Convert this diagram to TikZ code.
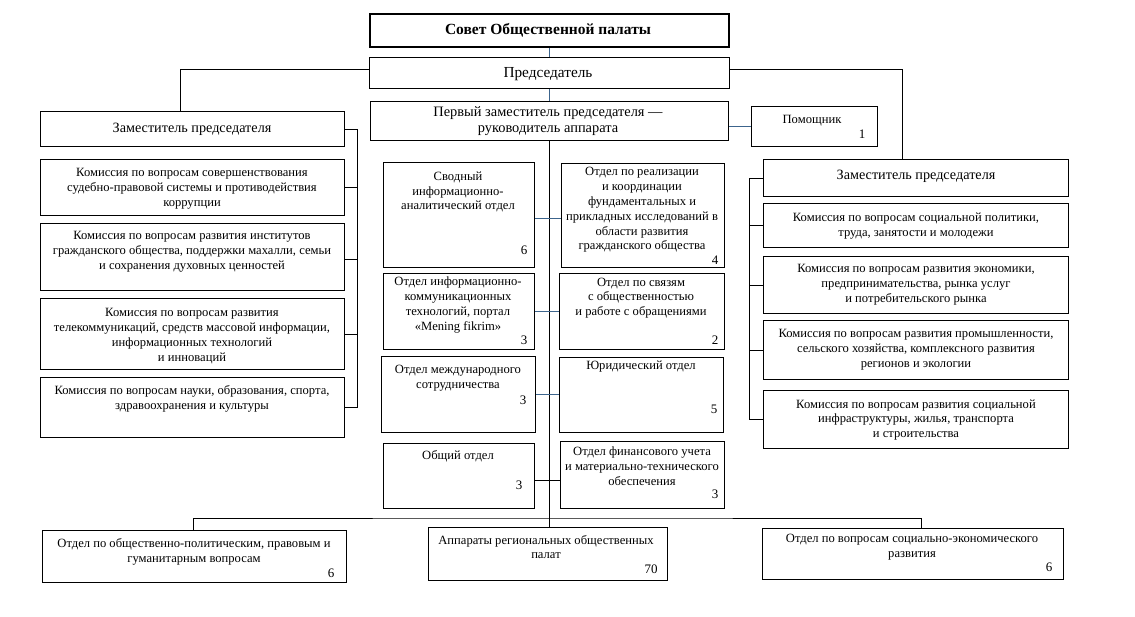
\documentclass[tikz,border=0pt]{standalone}
\usepackage{fontspec}
\setmainfont{Liberation Serif}
\definecolor{linkblue}{RGB}{60,100,140}
\tikzset{
  box/.style={draw=black,line width=1pt,inner sep=0pt,fill=white},
  boldbox/.style={draw=black,line width=2pt,inner sep=0pt},
  txt/.style={inner sep=0pt,align=center,yshift=-2pt,font=\fontsize{12.6}{14.8}\selectfont},
  num/.style={inner sep=0pt,yshift=-1pt,font=\fontsize{13}{15}\selectfont},
  conn/.style={draw=black,line width=1pt},
  bconn/.style={draw=linkblue,line width=0.9pt},
}
\newcommand\bx[6][]{\node[box,#1,minimum width={(#5-#3)*1pt},minimum height={(#6-#4)*1pt},anchor=north west] (#2) at (#3,#4) {};}
\begin{document}
\begin{tikzpicture}[x=1pt,y=-1pt]
\useasboundingbox[fill=white] (0,0) rectangle (1135,616);
% --- top
\bx[boldbox]{sovet}{369}{13}{728}{46}
\node[txt,font=\bfseries\fontsize{15.5}{17}\selectfont] (sovet-t) at (548,28) {Совет Общественной палаты};
\bx{pred}{369}{57}{729}{88}
\node[txt,font=\fontsize{15.3}{17}\selectfont] (pred-t) at (548,72) {Председатель};
\bx{perv}{370}{101}{728}{140}
\node[txt,font=\fontsize{14.4}{16}\selectfont] (perv-t) at (548,119) {Первый заместитель председателя —\\руководитель аппарата};
\bx{pom}{751}{106}{877}{146}
\node[txt] (pom-t) at (812,119) {Помощник};
\node[num] (pom-n) at (862,133) {1};
% --- deputies
\bx{zamL}{40}{111}{344}{146}
\node[txt,font=\fontsize{14.2}{16}\selectfont] (zamL-t) at (192,127) {Заместитель председателя};
\bx{zamR}{763}{159}{1068}{196}
\node[txt,font=\fontsize{14.2}{16}\selectfont] (zamR-t) at (916,174) {Заместитель председателя};
% --- left commissions
\bx{k1}{40}{159}{344}{215}
\node[txt] (k1-t) at (192,187) {Комиссия по вопросам совершенствования\\судебно-правовой системы и противодействия\\коррупции};
\bx{k2}{40}{223}{344}{290}
\node[txt] (k2-t) at (192,250) {Комиссия по вопросам развития институтов\\гражданского общества, поддержки махалли, семьи\\и сохранения духовных ценностей};
\bx{k3}{40}{298}{344}{369}
\node[txt] (k3-t) at (192,334) {Комиссия по вопросам развития\\телекоммуникаций, средств массовой информации,\\информационных технологий\\и инноваций};
\bx{k4}{40}{377}{344}{437}
\node[txt] (k4-t) at (192,397) {Комиссия по вопросам науки, образования, спорта,\\здравоохранения и культуры};
% --- right commissions
\bx{r1}{763}{203}{1068}{247}
\node[txt] (r1-t) at (916,224) {Комиссия по вопросам социальной политики,\\труда, занятости и молодежи};
\bx{r2}{763}{256}{1068}{313}
\node[txt] (r2-t) at (916,283) {Комиссия по вопросам развития экономики,\\предпринимательства, рынка услуг\\и потребительского рынка};
\bx{r3}{763}{320}{1068}{379}
\node[txt] (r3-t) at (916,348) {Комиссия по вопросам развития промышленности,\\сельского хозяйства, комплексного развития\\регионов и экологии};
\bx{r4}{763}{390}{1068}{448}
\node[txt] (r4-t) at (916,418) {Комиссия по вопросам развития социальной\\инфраструктуры, жилья, транспорта\\и строительства};
% --- central departments
\bx{svod}{383}{162}{534}{267}
\node[txt] (svod-t) at (458,190) {Сводный\\информационно-\\аналитический отдел};
\node[num] (svod-n) at (524,249) {6};
\bx{real}{561}{163}{724}{267}
\node[txt] (real-t) at (642,208) {Отдел по реализации\\и координации\\фундаментальных и\\прикладных исследований в\\области развития\\гражданского общества};
\node[num] (real-n) at (715,259) {4};
\bx{ikt}{383}{273}{534}{349}
\node[txt] (ikt-t) at (458,303) {Отдел информационно-\\коммуникационных\\технологий, портал\\«Mening fikrim»};
\node[num] (ikt-n) at (524,339) {3};
\bx{svyaz}{559}{273}{724}{349}
\node[txt] (svyaz-t) at (641,296) {Отдел по связям\\с общественностью\\и работе с обращениями};
\node[num] (svyaz-n) at (715,339) {2};
\bx{mezh}{381}{356}{535}{432}
\node[txt] (mezh-t) at (458,376) {Отдел международного\\сотрудничества};
\node[num] (mezh-n) at (523,399) {3};
\bx{yur}{559}{357}{723}{432}
\node[txt] (yur-t) at (641,365) {Юридический отдел};
\node[num] (yur-n) at (714,408) {5};
\bx{obsh}{383}{443}{534}{508}
\node[txt] (obsh-t) at (458,454) {Общий отдел};
\node[num] (obsh-n) at (519,484) {3};
\bx{fin}{560}{441}{724}{508}
\node[txt] (fin-t) at (642,464) {Отдел финансового учета\\и материально-технического\\обеспечения};
\node[num] (fin-n) at (715,493) {3};
% --- bottom row
\bx{botL}{42}{530}{346}{582}
\node[txt] (botL-t) at (194,550) {Отдел по общественно-политическим, правовым и\\гуманитарным вопросам};
\node[num] (botL-n) at (331,572) {6};
\bx{app}{428}{527}{667}{580}
\node[txt] (app-t) at (546,545) {Аппараты региональных общественных\\палат};
\node[num] (app-n) at (651,568) {70};
\bx{botR}{762}{528}{1063}{579}
\node[txt] (botR-t) at (912,545) {Отдел по вопросам социально-экономического\\развития};
\node[num] (botR-n) at (1049,566) {6};
% --- coordinates
\coordinate (lb) at (357,0);
\coordinate (rb) at (749,0);
\coordinate (hb) at (548,518);
% --- connectors
\draw[bconn] (sovet.south) -- (sovet.south |- pred.north);
\draw[bconn] (pred.south) -- (pred.south |- perv.north);
\draw[bconn] (perv.east |- pom.west) -- (pom.west);
\draw[conn] ([yshift=3.5]pred.west) -| ([xshift=-12]zamL.north);
\draw[conn] ([yshift=3.5]pred.east) -| ([xshift=-13.5]zamR.north);
% left bus
\draw[conn] (zamL.east) -- (zamL.east -| lb) -- (k4.east -| lb) -- (k4.east);
\draw[conn] (k1.east) -- (k1.east -| lb);
\draw[conn] ([yshift=-2.5]k2.east) -- ([yshift=-2.5]k2.east -| lb);
\draw[conn] (k3.east) -- (k3.east -| lb);
% right bus
\draw[conn] (zamR.west) -- (zamR.west -| rb) -- (r4.west -| rb) -- (r4.west);
\draw[conn] (r1.west) -- (r1.west -| rb);
\draw[conn] (r2.west) -- (r2.west -| rb);
\draw[conn] (r3.west) -- (r3.west -| rb);
% centre spine
\draw[conn] (perv.south) -- (perv.south |- app.north);
\draw[bconn] ([yshift=-3]svod.east) -- ([yshift=-3]svod.east -| real.west);
\draw[bconn] (ikt.east) -- (ikt.east -| svyaz.west);
\draw[bconn] (mezh.east) -- (mezh.east -| yur.west);
\draw[conn] ([yshift=-4]obsh.east) -- ([yshift=-4]obsh.east -| fin.west);
% bottom bus
\draw[conn] ([xshift=-1]botL.north) |- (hb) -| ([xshift=8.5]botR.north);
\end{tikzpicture}
\end{document}
